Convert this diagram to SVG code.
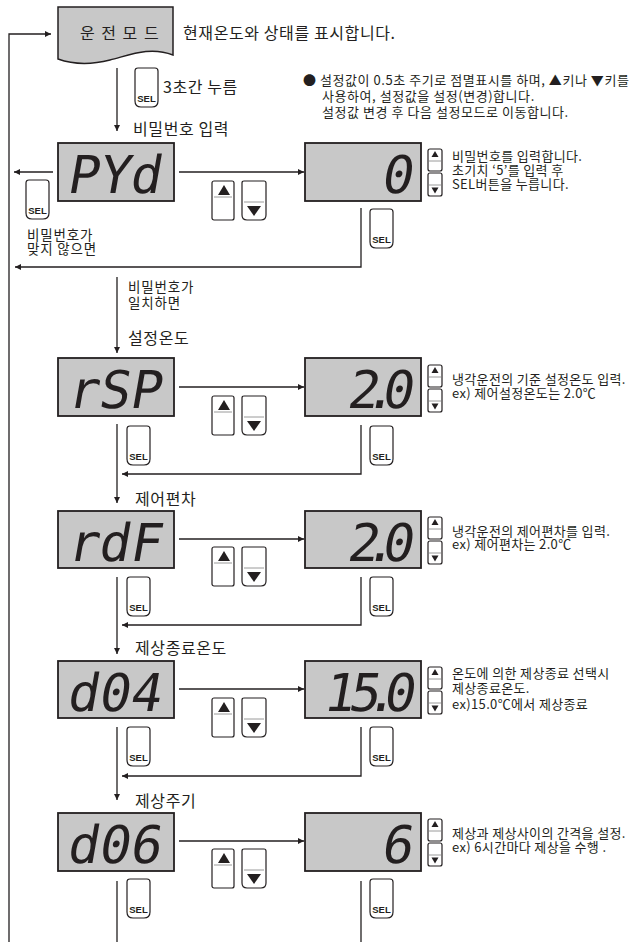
<svg xmlns="http://www.w3.org/2000/svg" xmlns:xlink="http://www.w3.org/1999/xlink" width="633" height="942" viewBox="0 0 633 942">
<style>
.ln{stroke:#231f20;stroke-width:1.3;fill:none}
.disp{fill:#c8c8c8;stroke:#231f20;stroke-width:1.8}
.seg{font-family:"DejaVu Sans Mono",monospace;font-size:52px;fill:#231f20}
.kr{font-family:"Noto Sans CJK KR","Noto Sans",sans-serif;fill:#231f20}
.lbl{font-size:16px;letter-spacing:0.6px}
.note{font-size:13px;letter-spacing:0.35px}
.bul{font-size:13px;letter-spacing:0.55px}
.small{font-size:13.5px;letter-spacing:0.8px}
.btn{fill:#fff;stroke:#231f20;stroke-width:1.2}
.sep{stroke:#9a9a9a;stroke-width:1}
.tri{fill:#231f20}
.sel{font-family:"Liberation Sans",Arial,sans-serif;font-weight:bold;font-size:9.5px;fill:#231f20;text-anchor:middle}
</style>
<defs>
<marker id="ah" viewBox="0 0 10 10" refX="10" refY="5" markerWidth="8" markerHeight="6" markerUnits="userSpaceOnUse" orient="auto"><path d="M0,0 L10,5 L0,10 z" fill="#231f20"/></marker>
<path id="selb" d="M3,0 H20 Q23,0 23,3 V33 Q23,39 17,39 H6 Q0,39 0,33 V3 Q0,0 3,0 Z"/>
<g id="upb"><rect x="0" y="0" width="22" height="39" rx="2"/></g>
<path id="downb" d="M2,0 H22 Q24,0 24,2 V34 Q24,39 19,39 H5 Q0,39 0,34 V2 Q0,0 2,0 Z"/>
</defs>

<g id="connectors">
<path class="ln" d="M9,942 V34 H51" marker-end="url(#ah)"/>
<line class="ln" x1="117" y1="68" x2="117" y2="131" marker-end="url(#ah)"/>
<line class="ln" x1="179" y1="172" x2="304" y2="172" marker-end="url(#ah)"/>
<line class="ln" x1="53" y1="172" x2="14" y2="172" marker-end="url(#ah)"/>
<path class="ln" d="M361,208 V267 H15" marker-end="url(#ah)"/>
<line class="ln" x1="117" y1="277" x2="117" y2="353" marker-end="url(#ah)"/>
<line class="ln" x1="179" y1="387" x2="304" y2="387" marker-end="url(#ah)"/>
<line class="ln" x1="117" y1="424" x2="117" y2="503" marker-end="url(#ah)"/>
<path class="ln" d="M361,425 V474 H122" marker-end="url(#ah)"/>
<line class="ln" x1="179" y1="539" x2="304" y2="539" marker-end="url(#ah)"/>
<line class="ln" x1="117" y1="577" x2="117" y2="654" marker-end="url(#ah)"/>
<path class="ln" d="M361,577 V625 H122" marker-end="url(#ah)"/>
<line class="ln" x1="179" y1="689" x2="304" y2="689" marker-end="url(#ah)"/>
<line class="ln" x1="117" y1="727" x2="117" y2="800" marker-end="url(#ah)"/>
<path class="ln" d="M361,727 V776 H122" marker-end="url(#ah)"/>
<line class="ln" x1="179" y1="841" x2="304" y2="841" marker-end="url(#ah)"/>
<line class="ln" x1="117" y1="881" x2="117" y2="942"/>
<line class="ln" x1="361" y1="881" x2="361" y2="942"/>
</g>

<g id="node-mode">
<path d="M58,7 H173 V55 C150,46 130,55 110,60 C90,65 72,64 58,59 Z" fill="#c8c8c8" stroke="#231f20" stroke-width="1.5"/>
<text class="kr lbl" x="80" y="39" style="letter-spacing:1.5px">운 전 모 드</text>
<text class="kr lbl" x="183" y="39">현재온도와 상태를 표시합니다.</text>
</g>

<g id="sel-enter">
<use xlink:href="#selb" x="135" y="68" class="btn"/>
<text class="sel" x="146.5" y="102">SEL</text>
<text class="kr lbl" x="163" y="93">3초간 누름</text>
</g>

<g id="note-blink">
<text class="kr bul"><tspan x="303" y="85">● 설정값이 0.5초 주기로 점멸표시를 하며, ▲키나 ▼키를</tspan><tspan x="322" y="101">사용하여, 설정값을 설정(변경)합니다.</tspan><tspan x="322" y="116.5">설정값 변경 후 다음 설정모드로 이동합니다.</tspan></text>
</g>

<!-- Password -->
<g id="node-pyd">
<text class="kr lbl" x="133" y="135">비밀번호 입력</text>
<rect class="disp" x="58" y="143" width="116" height="58"/>
<text class="seg" transform="translate(66,193) skewX(-10)">PYd</text>
</g>
<g id="node-pyd-val">
<rect class="disp" x="305" y="143" width="116" height="58"/>
<text class="seg" transform="translate(380,193) skewX(-10)">0</text>
<rect class="btn" x="428" y="149" width="14" height="22" rx="2"/>
<path class="tri" d="M431.5,157 L435,151 L438.5,157 Z"/>
<line class="sep" x1="429" y1="161" x2="441" y2="161"/>
<rect class="btn" x="428" y="173" width="14" height="23" rx="2"/>
<line class="sep" x1="429" y1="185" x2="441" y2="185"/>
<path class="tri" d="M431.5,187.5 L438.5,187.5 L435,193.5 Z"/>
<text class="kr note"><tspan x="452" y="161">비밀번호를 입력합니다.</tspan><tspan x="452" y="175">초기치 ‘5’를 입력 후</tspan><tspan x="452" y="189">SEL버튼을 누릅니다.</tspan></text>
</g>
<g id="btns-pyd">
<use xlink:href="#upb" x="212" y="181" class="btn"/>
<line class="sep" x1="214" y1="197" x2="232" y2="197"/>
<path class="tri" d="M218,195 L224,185 L230,195 Z"/>
<use xlink:href="#downb" x="242" y="181" class="btn"/>
<line class="sep" x1="244" y1="202" x2="264" y2="202"/>
<path class="tri" d="M247,206 L261,206 L254,216 Z"/>
</g>
<g id="sel-pyd-left">
<use xlink:href="#selb" x="26" y="180" class="btn"/>
<text class="sel" x="37.5" y="214">SEL</text>
<text class="kr small"><tspan x="27" y="240">비밀번호가</tspan><tspan x="27" y="254">맞지 않으면</tspan></text>
</g>
<g id="sel-pyd-right">
<use xlink:href="#selb" x="370" y="209" class="btn"/>
<text class="sel" x="381.5" y="243">SEL</text>
</g>
<g id="label-match">
<text class="kr small"><tspan x="128" y="292">비밀번호가</tspan><tspan x="128" y="308">일치하면</tspan></text>
</g>

<!-- rSP -->
<g id="node-rsp">
<text class="kr lbl" x="128" y="343.5">설정온도</text>
<rect class="disp" x="58" y="358" width="116" height="58"/>
<text class="seg" transform="translate(66,408) skewX(-10)">rSP</text>
</g>
<g id="node-rsp-val">
<rect class="disp" x="305" y="358" width="116" height="58"/>
<text class="seg" transform="translate(346,408) skewX(-10)">2<tspan dx="-14">.</tspan><tspan dx="-14">0</tspan></text>
<rect class="btn" x="428" y="365" width="14" height="22" rx="2"/>
<path class="tri" d="M431.5,373 L435,367 L438.5,373 Z"/>
<line class="sep" x1="429" y1="377" x2="441" y2="377"/>
<rect class="btn" x="428" y="389" width="14" height="23" rx="2"/>
<line class="sep" x1="429" y1="401" x2="441" y2="401"/>
<path class="tri" d="M431.5,403.5 L438.5,403.5 L435,409.5 Z"/>
<text class="kr note"><tspan x="452" y="383.5">냉각운전의 기준 설정온도 입력.</tspan><tspan x="452" y="397.5">ex) 제어설정온도는 2.0℃</tspan></text>
</g>
<g id="btns-rsp">
<use xlink:href="#upb" x="212" y="396" class="btn"/>
<line class="sep" x1="214" y1="412" x2="232" y2="412"/>
<path class="tri" d="M218,410 L224,400 L230,410 Z"/>
<use xlink:href="#downb" x="242" y="396" class="btn"/>
<line class="sep" x1="244" y1="417" x2="264" y2="417"/>
<path class="tri" d="M247,421 L261,421 L254,431 Z"/>
</g>
<g id="sel-rsp-left"><use xlink:href="#selb" x="127" y="426" class="btn"/><text class="sel" x="138.5" y="460">SEL</text></g>
<g id="sel-rsp-right"><use xlink:href="#selb" x="370" y="426" class="btn"/><text class="sel" x="381.5" y="460">SEL</text></g>

<!-- rdF -->
<g id="node-rdf">
<text class="kr lbl" x="135" y="504.5">제어편차</text>
<rect class="disp" x="58" y="511" width="116" height="57"/>
<text class="seg" transform="translate(66,561) skewX(-10)">rdF</text>
</g>
<g id="node-rdf-val">
<rect class="disp" x="305" y="511" width="116" height="57"/>
<text class="seg" transform="translate(346,561) skewX(-10)">2<tspan dx="-14">.</tspan><tspan dx="-14">0</tspan></text>
<rect class="btn" x="428" y="517" width="14" height="22" rx="2"/>
<path class="tri" d="M431.5,525 L435,519 L438.5,525 Z"/>
<line class="sep" x1="429" y1="529" x2="441" y2="529"/>
<rect class="btn" x="428" y="541" width="14" height="23" rx="2"/>
<line class="sep" x1="429" y1="553" x2="441" y2="553"/>
<path class="tri" d="M431.5,555.5 L438.5,555.5 L435,561.5 Z"/>
<text class="kr note"><tspan x="452" y="535.5">냉각운전의 제어편차를 입력.</tspan><tspan x="452" y="549">ex) 제어편차는 2.0℃</tspan></text>
</g>
<g id="btns-rdf">
<use xlink:href="#upb" x="212" y="547" class="btn"/>
<line class="sep" x1="214" y1="563" x2="232" y2="563"/>
<path class="tri" d="M218,561 L224,551 L230,561 Z"/>
<use xlink:href="#downb" x="242" y="547" class="btn"/>
<line class="sep" x1="244" y1="568" x2="264" y2="568"/>
<path class="tri" d="M247,572 L261,572 L254,582 Z"/>
</g>
<g id="sel-rdf-left"><use xlink:href="#selb" x="127" y="577" class="btn"/><text class="sel" x="138.5" y="611">SEL</text></g>
<g id="sel-rdf-right"><use xlink:href="#selb" x="370" y="577" class="btn"/><text class="sel" x="381.5" y="611">SEL</text></g>

<!-- d04 -->
<g id="node-d04">
<text class="kr lbl" x="135" y="653.5">제상종료온도</text>
<rect class="disp" x="58" y="661" width="116" height="57"/>
<text class="seg" transform="translate(66,711) skewX(-10)">d04</text>
</g>
<g id="node-d04-val">
<rect class="disp" x="305" y="661" width="116" height="57"/>
<text class="seg" transform="translate(322,711) skewX(-10)">1<tspan dx="-6">5</tspan><tspan dx="-14">.</tspan><tspan dx="-14">0</tspan></text>
<rect class="btn" x="428" y="667" width="14" height="22" rx="2"/>
<path class="tri" d="M431.5,675 L435,669 L438.5,675 Z"/>
<line class="sep" x1="429" y1="679" x2="441" y2="679"/>
<rect class="btn" x="428" y="691" width="14" height="23" rx="2"/>
<line class="sep" x1="429" y1="703" x2="441" y2="703"/>
<path class="tri" d="M431.5,705.5 L438.5,705.5 L435,711.5 Z"/>
<text class="kr note"><tspan x="452" y="677.5">온도에 의한 제상종료 선택시</tspan><tspan x="452" y="692.5">제상종료온도.</tspan><tspan x="452" y="708.5">ex)15.0℃에서 제상종료</tspan></text>
</g>
<g id="btns-d04">
<use xlink:href="#upb" x="212" y="698" class="btn"/>
<line class="sep" x1="214" y1="714" x2="232" y2="714"/>
<path class="tri" d="M218,712 L224,702 L230,712 Z"/>
<use xlink:href="#downb" x="242" y="698" class="btn"/>
<line class="sep" x1="244" y1="719" x2="264" y2="719"/>
<path class="tri" d="M247,723 L261,723 L254,733 Z"/>
</g>
<g id="sel-d04-left"><use xlink:href="#selb" x="127" y="727" class="btn"/><text class="sel" x="138.5" y="761">SEL</text></g>
<g id="sel-d04-right"><use xlink:href="#selb" x="370" y="727" class="btn"/><text class="sel" x="381.5" y="761">SEL</text></g>

<!-- d06 -->
<g id="node-d06">
<text class="kr lbl" x="135" y="806.5">제상주기</text>
<rect class="disp" x="58" y="813" width="116" height="58"/>
<text class="seg" transform="translate(66,863) skewX(-10)">d06</text>
</g>
<g id="node-d06-val">
<rect class="disp" x="305" y="813" width="116" height="58"/>
<text class="seg" transform="translate(380,863) skewX(-10)">6</text>
<rect class="btn" x="428" y="819" width="14" height="22" rx="2"/>
<path class="tri" d="M431.5,827 L435,821 L438.5,827 Z"/>
<line class="sep" x1="429" y1="831" x2="441" y2="831"/>
<rect class="btn" x="428" y="843" width="14" height="23" rx="2"/>
<line class="sep" x1="429" y1="855" x2="441" y2="855"/>
<path class="tri" d="M431.5,857.5 L438.5,857.5 L435,863.5 Z"/>
<text class="kr note"><tspan x="452" y="837.5">제상과 제상사이의 간격을 설정.</tspan><tspan x="452" y="851.5">ex) 6시간마다 제상을 수행 .</tspan></text>
</g>
<g id="btns-d06">
<use xlink:href="#upb" x="212" y="849" class="btn"/>
<line class="sep" x1="214" y1="865" x2="232" y2="865"/>
<path class="tri" d="M218,863 L224,853 L230,863 Z"/>
<use xlink:href="#downb" x="242" y="849" class="btn"/>
<line class="sep" x1="244" y1="870" x2="264" y2="870"/>
<path class="tri" d="M247,874 L261,874 L254,884 Z"/>
</g>
<g id="sel-d06-left"><use xlink:href="#selb" x="127" y="879" class="btn"/><text class="sel" x="138.5" y="913">SEL</text></g>
<g id="sel-d06-right"><use xlink:href="#selb" x="370" y="879" class="btn"/><text class="sel" x="381.5" y="913">SEL</text></g>
</svg>
